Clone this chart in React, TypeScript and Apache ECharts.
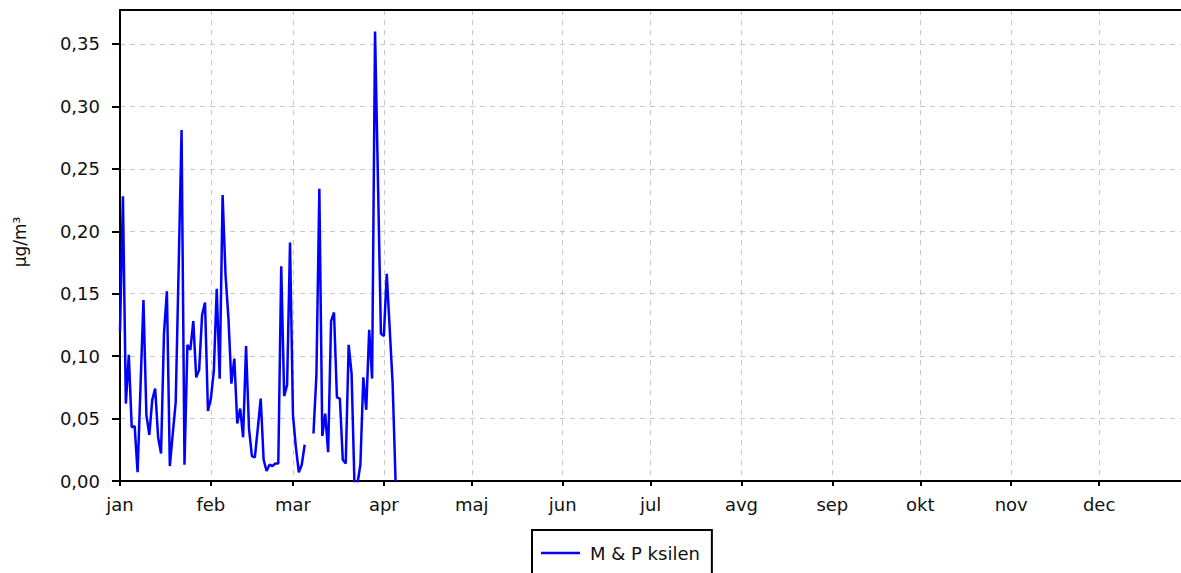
import React, { useEffect, useRef } from 'react';
import * as echarts from 'echarts';

const monthNames = ['jan', 'feb', 'mar', 'apr', 'maj', 'jun', 'jul', 'avg', 'sep', 'okt', 'nov', 'dec'];
const seriesName = 'M & P ksilen';
const yAxisName = 'µg/m³';

// daily values from 1 January, one per day (null = no measurement)
const values: (number | null)[] = [
  0.120, 0.228, 0.062, 0.101, 0.043, 0.044, 0.007, 0.076, 0.145, 0.053,
  0.037, 0.065, 0.074, 0.035, 0.022, 0.118, 0.152, 0.012, 0.038, 0.063,
  0.170, 0.281, 0.013, 0.109, 0.105, 0.128, 0.083, 0.089, 0.133, 0.143,
  0.056, 0.066, 0.088, 0.154, 0.082, 0.229, 0.165, 0.130, 0.078, 0.098,
  0.046, 0.058, 0.035, 0.108, 0.042, 0.020, 0.019, 0.042, 0.066, 0.017,
  0.008, 0.013, 0.012, 0.014, 0.014, 0.172, 0.068, 0.077, 0.191, 0.053,
  0.027, 0.007, 0.013, 0.029, null, null, 0.038, 0.085, 0.234, 0.036,
  0.054, 0.023, 0.128, 0.135, 0.067, 0.066, 0.017, 0.014, 0.109, 0.086,
  -0.004, -0.002, 0.013, 0.083, 0.057, 0.121, 0.082, 0.360, 0.240, 0.118,
  0.116, 0.166, 0.122, 0.078, 0.000,
];

const yMin = 0;
const yMax = 0.3772;
const yStep = 0.05;

function buildCategories(): string[] {
  const out: string[] = [];
  const start = Date.UTC(2019, 0, 1);
  for (let i = 0; i <= 365; i++) {
    const d = new Date(start + i * 86400000);
    const m = String(d.getUTCMonth() + 1).padStart(2, '0');
    const day = String(d.getUTCDate()).padStart(2, '0');
    out.push(`${d.getUTCFullYear()}-${m}-${day}`);
  }
  return out;
}

export default function App() {
  const ref = useRef<HTMLDivElement>(null);
  useEffect(() => {
    if (!ref.current) return;
    const chart = echarts.init(ref.current, undefined, { renderer: 'svg' });
    const categories = buildCategories();
    const data = categories.map((_, i) => (i < values.length ? values[i] : null));
    const isMonthStart = (index: number, value: string) => value.endsWith('-01') && index < 365;
    const font = 'DejaVu Sans';
    const textColor = '#111';
    chart.setOption({
      animation: false,
      backgroundColor: '#ffffff',
      textStyle: { fontFamily: font },
      grid: {
        left: 120,
        top: 10,
        right: 0,
        bottom: 92,
        show: false,
        containLabel: false,
      },
      graphic: [
        {
          type: 'text',
          x: 20,
          y: 242,
          rotation: Math.PI / 2,
          style: {
            text: yAxisName,
            font: `17px "${font}"`,
            fill: textColor,
            align: 'center',
            verticalAlign: 'middle',
          },
        },
      ],
      legend: {
        show: true,
        left: 532,
        top: 530,
        padding: [14, 12, 14, 9],
        borderColor: '#000',
        borderWidth: 2,
        itemWidth: 39,
        itemHeight: 2.5,
        icon: 'rect',
        textStyle: { fontFamily: font, fontSize: 18, color: textColor, padding: [0, 0, 0, 5] },
        data: [seriesName],
      },
      xAxis: [
        {
          type: 'category',
          data: categories,
          boundaryGap: false,
          axisLine: { show: true, lineStyle: { color: '#000', width: 2 } },
          axisTick: { show: true, interval: isMonthStart, length: 5, lineStyle: { color: '#000', width: 2 } },
          axisLabel: {
            interval: isMonthStart,
            color: textColor,
            fontFamily: font,
            fontSize: 18,
            margin: 14,
            formatter: (v: string) => monthNames[parseInt(v.slice(5, 7), 10) - 1],
          },
          splitLine: {
            show: true,
            interval: isMonthStart,
            lineStyle: { color: '#c8c8c8', type: [5, 5], width: 1 },
          },
        },
        {
          type: 'category',
          data: categories,
          boundaryGap: false,
          position: 'top',
          axisLine: { show: true, onZero: false, lineStyle: { color: '#000', width: 2 } },
          axisTick: { show: false },
          axisLabel: { show: false },
          splitLine: { show: false },
        },
      ],
      yAxis: {
        type: 'value',
        min: yMin,
        max: yMax,
        interval: yStep,
        axisLine: { show: true, lineStyle: { color: '#000', width: 2 } },
        axisTick: { show: true, length: 8, lineStyle: { color: '#000', width: 2 } },
        axisLabel: {
          color: textColor,
          fontFamily: font,
          fontSize: 18,
          margin: 20,
          showMaxLabel: false,
          formatter: (v: number) => v.toFixed(2).replace('.', ','),
        },
        splitLine: { show: true, lineStyle: { color: '#c8c8c8', type: [5, 5], width: 1 } },
      },
      series: [
        {
          name: seriesName,
          type: 'line',
          xAxisIndex: 0,
          data,
          symbol: 'none',
          connectNulls: false,
          clip: true,
          lineStyle: { color: '#0000ff', width: 2.5 },
          itemStyle: { color: '#0000ff' },
        },
      ],
    });
    return () => chart.dispose();
  }, []);
  return (
    <div style={{ position: 'fixed', left: 0, top: 0, width: 1181, height: 573, overflow: 'hidden', background: '#fff' }}>
      <div ref={ref} style={{ width: 1190, height: 573 }} />
    </div>
  );
}
